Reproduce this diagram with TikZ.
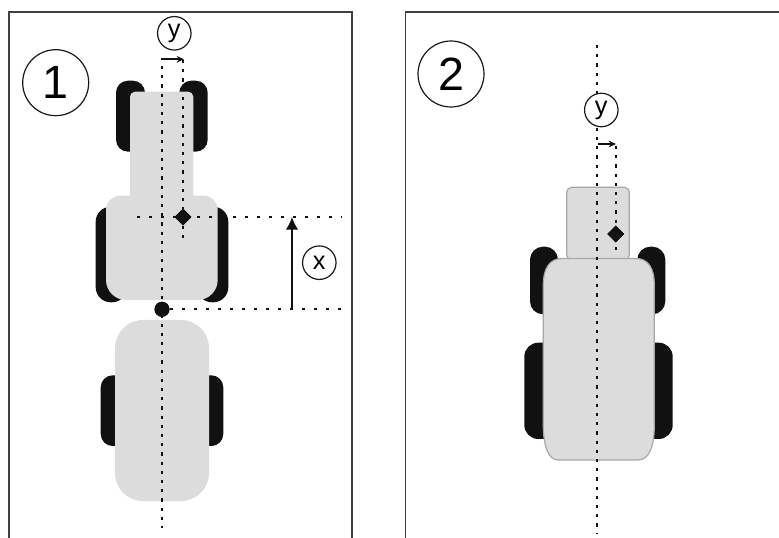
\documentclass[tikz,border=0pt]{standalone}
\usepackage{fontspec}
\setmainfont{Liberation Sans}
\usetikzlibrary{shapes.geometric,arrows.meta}
\definecolor{body}{HTML}{DCDCDC}
\definecolor{tyre}{HTML}{111111}
\definecolor{edge}{HTML}{A8A8A8}
\tikzset{
  px/.style={line width=#1*0.75pt},
  frame/.style={draw=black!75,px=1.8},
  tyreshape/.style={fill=tyre,draw=none},
  bodyshape/.style={fill=body,draw=none},
  bodyedge/.style={fill=body,draw=edge,px=1.2},
  bignum/.style={circle,draw=black!90,px=1.2,fill=white,minimum size=66*0.75pt,inner sep=0pt,font=\fontsize{35}{35}\selectfont},
  letter/.style={circle,draw=black!90,px=1.2,fill=white,minimum size=33.5*0.75pt,inner sep=0pt,font=\fontsize{19}{19}\selectfont},
  dotline/.style={draw=tyre,px=2.4,dash pattern=on 2.4pt off 4.5pt},
  dashline/.style={draw=tyre,px=1.8,dash pattern=on 2.6pt off 6.4pt},
  shift arrow/.style={draw=tyre,px=1.8,-{Stealth[length=5.5pt,width=5pt]}},
  dim arrow/.style={draw=tyre,px=1.8,-{Latex[length=9.5pt,width=9.5pt]}},
  mark diamond/.style={diamond,fill=tyre,draw=none,minimum size=17*0.75pt,inner sep=0pt},
  mark dot/.style={circle,fill=tyre,draw=none,minimum size=15*0.75pt,inner sep=0pt},
}
\begin{document}
\begin{tikzpicture}[x=0.75pt,y=-0.75pt]
\useasboundingbox (0,0) rectangle (779,538);
% frames
\draw[frame] (9,538) -- (9,12) -- (352,12) -- (352,538);
\draw[frame] (405.5,538) -- (405.5,12) -- (779,12);
% panel 1: tyres
\fill[tyreshape,rounded corners=12*0.75pt] (116,80.7) rectangle (145,151.7);
\fill[tyreshape,rounded corners=12*0.75pt] (179.3,80.7) rectangle (207.7,151.7);
\fill[tyreshape,rounded corners=15*0.75pt] (95.7,206.7) rectangle (127,302.3);
\fill[tyreshape,rounded corners=15*0.75pt] (197,206.7) rectangle (228.3,302.3);
\fill[tyreshape,rounded corners=12*0.75pt] (100.7,375.3) rectangle (223.3,446);
% panel 1: bodies
\fill[bodyshape,rounded corners=5*0.75pt] (130,91.7) rectangle (193.3,230);
\fill[bodyshape] (120,195.7) -- (203.7,195.7) .. controls (211.4,195.7) and (217.7,202) .. (217.7,209.7)
  -- (217.7,280) .. controls (217.7,291) and (208.7,300) .. (197.7,300)
  -- (126,300) .. controls (115,300) and (106,291) .. (106,280)
  -- (106,209.7) .. controls (106,202) and (112.3,195.7) .. (120,195.7) -- cycle;
\fill[bodyshape,rounded corners=28*0.75pt] (115,320) rectangle (209,501);
% panel 1: marks
\node[letter] (y1) at (174.3,33.3) {y};
\node[bignum] (n1) at (55.7,82.7) {1};
\node[letter] (x1) at (319.3,262.7) {x};
\node[mark diamond] (d1) at (183,217) {};
\node[mark dot] (h1) at (162,309.3) {};
\coordinate (a1s) at (161,59.3);
\coordinate (a1e) at (184,59.3);
\coordinate (c1top) at (162,66);
\coordinate (c1bot) at (162,528);
\coordinate (d1top) at (183,60);
\coordinate (d1bot) at (183,241);
\coordinate (hl) at (137,217);
\coordinate (hr) at (342,217);
\coordinate (lr) at (341,309.3);
\coordinate (u1) at (292,309.3);
\coordinate (u2) at (292,217);
\draw[dotline] (c1top) -- (c1bot);
\draw[dotline] (d1top) -- (d1bot);
\draw[dotline,dash pattern=on 2.6pt off 6.4pt] (hl) -- (hr);
\draw[dashline] (h1) -- (lr);
\draw[shift arrow] (a1s) -- (a1e);
\draw[dim arrow] (u1) -- (u2);
\node[mark diamond] at (d1) {};
\node[mark dot] at (h1) {};
% panel 2: tyres
\fill[tyreshape,rounded corners=13*0.75pt] (530,246.7) rectangle (558,314.3);
\fill[tyreshape,rounded corners=13*0.75pt] (637.3,246.7) rectangle (665.3,314.3);
\fill[tyreshape,rounded corners=14*0.75pt] (524.3,342.7) rectangle (672.7,439);
% panel 2: bodies
\filldraw[bodyedge,rounded corners=5*0.75pt] (566.7,187.3) rectangle (629.3,260);
\filldraw[bodyedge] (562,258.5) -- (636,258.5) .. controls (648,258.5) and (654.3,268) .. (654.3,285)
  -- (654.3,425) .. controls (654.3,445) and (650,460) .. (638,460)
  -- (558,460) .. controls (548,460) and (543.3,445) .. (543.3,425)
  -- (543.3,285) .. controls (543.3,268) and (550,258.5) .. (562,258.5) -- cycle;
% panel 2: marks
\coordinate (c2top) at (597,45);
\coordinate (c2bot) at (597,534);
\draw[dotline] (c2top) -- (c2bot);
\node[letter] (y2) at (601.3,110) {y};
\node[bignum] (n2) at (451,74) {2};
\node[mark diamond] (d2) at (615.7,234) {};
\coordinate (a2s) at (597.5,144);
\coordinate (a2e) at (616,144);
\coordinate (d2top) at (615.7,146);
\coordinate (d2bot) at (615.7,250);
\draw[dotline] (d2top) -- (d2bot);
\draw[shift arrow] (a2s) -- (a2e);
\node[mark diamond] at (d2) {};
\end{tikzpicture}
\end{document}
